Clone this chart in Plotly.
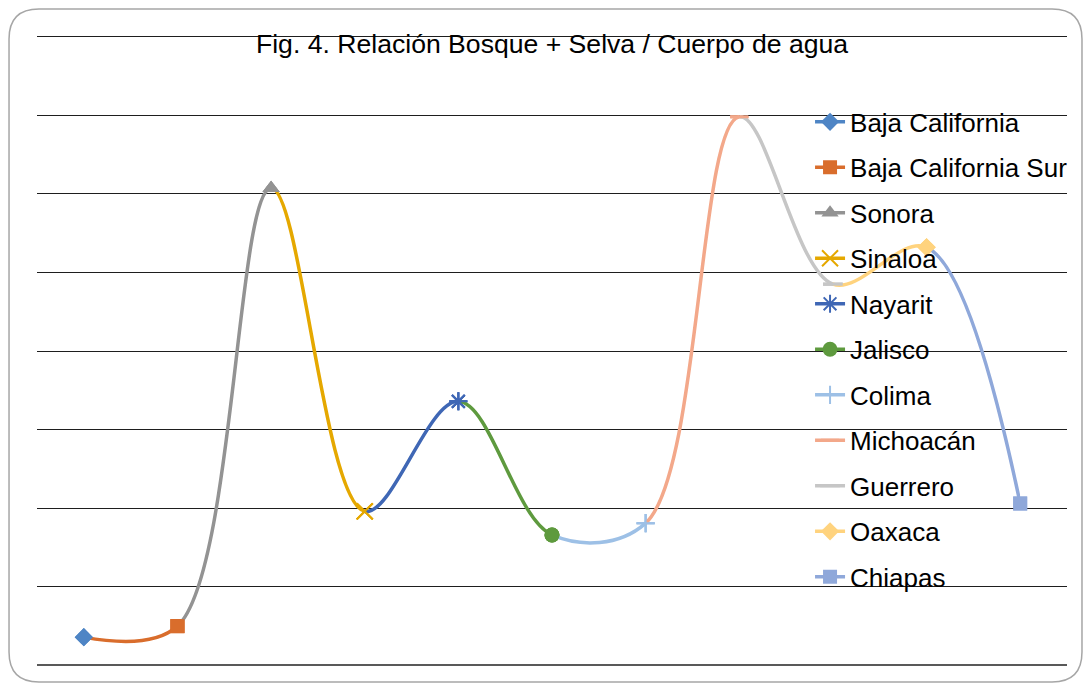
import plotly.graph_objects as go

states = ["Baja California", "Baja California Sur", "Sonora", "Sinaloa", "Nayarit",
          "Jalisco", "Colima", "Michoacán", "Guerrero", "Oaxaca", "Chiapas"]
values = [36, 50, 607, 196, 336, 166, 181, 698, 485, 532, 206]
colors = ["#4E85C5", "#D96D2C", "#939393", "#E5A800", "#3F67B5", "#5E9A3E",
          "#9DC0E6", "#F3A88A", "#C6C6C6", "#FFD37E", "#8FA8DA"]
symbols = ["diamond", "square", "triangle-up", "x-thin-open", "asterisk-open", "circle",
           "cross-thin-open", "line-ew-open", "line-ew-open", "diamond", "square"]
msizes = [14, 14, 15, 16, 15, 15, 13, 13, 14, 14, 14]
ygrid = [0, 100, 200, 300, 400, 500, 600, 700, 800]

n = len(states)
FONT = "Liberation Sans, Arial, sans-serif"
W, H = 1076, 675  # page body has an 8px margin inside the 1092x691 window

fig = go.Figure()

def marker_for(i):
    open_sym = symbols[i].endswith("open")
    wid = 3 if symbols[i].startswith("line") else 2
    return dict(symbol=symbols[i], size=msizes[i], color=colors[i],
                line=dict(color=colors[i], width=wid if open_sym else 0))

# legend-bearing marker traces on the main axis
for i in range(n):
    fig.add_trace(go.Scatter(
        x=[states[i]], y=[values[i]], mode="lines+markers", name=states[i],
        legendgroup=states[i], showlegend=True,
        line=dict(color=colors[i], width=3.5), marker=marker_for(i),
        xaxis="x", yaxis="y", hoverinfo="skip"))

# smoothed segments: segment k (from point k-1 to k) coloured as series k,
# drawn on its own x axis whose domain covers only that segment (clipped)
for k in range(1, n):
    lo, hi = max(0, k - 2), min(n, k + 2)
    fig.add_trace(go.Scatter(
        x=states[lo:hi], y=values[lo:hi], mode="lines",
        line=dict(color=colors[k], width=3.5, shape="spline", smoothing=1.0),
        showlegend=False, legendgroup=states[k], xaxis=f"x{k+1}", yaxis="y",
        hoverinfo="skip"))

# marker copies on top of the segment subplots
for i in range(n):
    for k in (i, i + 1):
        if 1 <= k <= n - 1:
            fig.add_trace(go.Scatter(
                x=[states[i]], y=[values[i]], mode="markers", marker=marker_for(i),
                showlegend=False, legendgroup=states[i], cliponaxis=False,
                xaxis=f"x{k+1}", yaxis="y", hoverinfo="skip"))

axis_common = dict(type="category", categoryorder="array", categoryarray=states,
                   showticklabels=False, showgrid=False, zeroline=False,
                   showline=False, ticks="", fixedrange=True)
ypad = 2
layout = dict(
    width=W, height=H,
    margin=dict(l=29, r=16, t=27, b=16, pad=0),
    paper_bgcolor="white", plot_bgcolor="rgba(0,0,0,0)",
    font=dict(family=FONT, color="black"),
    title=dict(text="Fig. 4. Relación Bosque + Selva / Cuerpo de agua",
               x=544 / W, xref="container", xanchor="center",
               y=1 - 36 / H, yref="container", yanchor="middle",
               font=dict(size=26.6, family=FONT, color="black")),
    xaxis=dict(axis_common, domain=[0, 1], range=[-0.5, n - 0.5]),
    yaxis=dict(range=[ygrid[0] - ypad, ygrid[-1] + ypad], tickvals=ygrid,
               showticklabels=False, showgrid=True, gridcolor="#1e1e1e", gridwidth=1.3,
               zeroline=True, zerolinecolor="#595959", zerolinewidth=2,
               showline=False, ticks="", fixedrange=True),
    legend=dict(x=0.7498, xanchor="left", y=0.8997, yanchor="top",
                bgcolor="rgba(0,0,0,0)", font=dict(size=26, family=FONT, color="black"),
                traceorder="grouped", tracegroupgap=8.7, itemclick=False),
    showlegend=True,
)
for k in range(1, n):
    d0 = (k - 1 + 0.5) / n
    d1 = (k + 0.5) / n
    layout[f"xaxis{k+1}"] = dict(axis_common, domain=[d0, d1], range=[k - 1, k],
                                 anchor="y", visible=False)
fig.update_layout(**layout)

# rounded chart border (paper coordinates relative to the plot area)
pw, ph = W - 29 - 16, H - 27 - 16
def px2paper(px, py):
    return (px - 29) / pw, (H - 16 - py) / ph
x0, y1 = px2paper(1, 1)
x1, y0 = px2paper(W - 1, H - 1)
rx, ry = 30 / pw, 30 / ph
path = (f"M {x0+rx},{y1} L {x1-rx},{y1} Q {x1},{y1} {x1},{y1-ry} "
        f"L {x1},{y0+ry} Q {x1},{y0} {x1-rx},{y0} L {x0+rx},{y0} "
        f"Q {x0},{y0} {x0},{y0+ry} L {x0},{y1-ry} Q {x0},{y1} {x0+rx},{y1} Z")
fig.add_shape(type="path", path=path, xref="paper", yref="paper",
              line=dict(color="#A6A6A6", width=1.5), layer="below")

fig.write_html("out.html")
